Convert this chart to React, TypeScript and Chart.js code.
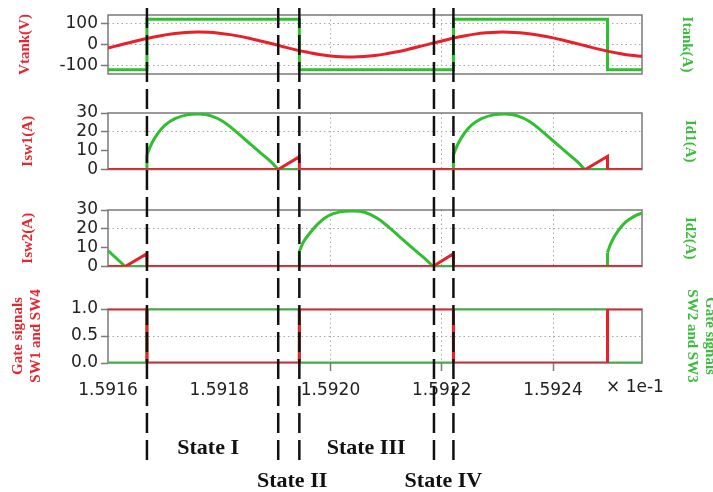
import React, { useEffect, useRef } from 'react';
import { Chart, registerables } from 'chart.js';
Chart.register(...registerables);

const W = 713;
const RED = '#e8202a';
const GREEN = '#2fbf2f';
const RED_TEXT = '#e3262f';
const GREEN_TEXT = '#3cbc3c';
const TEXT = '#222222';
const AXIS = '#7a7a7a';
const GRID = '#a8a8a8';

// ---- shared time axis (x 1e-1) ----
const X_MIN = 1.5916;
const X_MAX = 1.59256;
const xTicks = [1.5916, 1.5918, 1.592, 1.5922, 1.5924];
const xGridShown = [1.592, 1.5922, 1.5924];
const xTickMarks = [1.592, 1.5922, 1.5924];
const switchTimes = [1.59167, 1.591906, 1.591944, 1.592186, 1.592221];
const stateLabels = ['State I', 'State II', 'State III', 'State IV'];
const stateTimes = [1.59178, 1.591931, 1.592064, 1.592203];
const stateRows = [0, 1, 0, 1];

// ---- panel 1 : Vtank / Itank ----
const vtankT = [1.5916, 1.59162, 1.59164, 1.59166, 1.59168, 1.5917, 1.59172, 1.59174, 1.59176, 1.59178,
  1.5918, 1.59182, 1.59184, 1.59186, 1.59188, 1.5919, 1.59192, 1.59194, 1.59196, 1.59198,
  1.592, 1.59202, 1.59204, 1.59206, 1.59208, 1.5921, 1.59212, 1.59214, 1.59216, 1.59218,
  1.5922, 1.59222, 1.59224, 1.59226, 1.59228, 1.5923, 1.59232, 1.59234, 1.59236, 1.59238,
  1.5924, 1.59242, 1.59244, 1.59246, 1.59248, 1.5925, 1.59252, 1.59254, 1.59256];
const vtankV = [-17, -3.5, 10, 23, 35, 45, 53, 58, 60, 59,
  54.5, 47.5, 38, 26, 13.5, 0, -14, -27, -38, -48,
  -55, -59, -60, -58, -53, -45, -35, -23, -10, 4,
  17, 30, 41, 50, 56, 59.5, 59.5, 57, 51, 42.5,
  32, 19.5, 6, -7.5, -21, -33, -43.5, -52, -57];
const itankT = [1.5916, 1.59167, 1.59167, 1.591944, 1.591944, 1.592221, 1.592221, 1.592498, 1.592498, 1.59256];
const itankV = [-122, -122, 122, 122, -122, -122, 122, 122, -122, -122];
const p1Ticks = [-100, 0, 100];
const p1Grid = [-100, 0, 100];

// ---- panel 2 : Isw1 / Id1 ----
const isw1T = [1.5916, 1.591906, 1.591944, 1.591944, 1.592458, 1.592498, 1.592498, 1.59256];
const isw1V = [0, 0, 6.8, 0, 0, 7, 0, 0];
const id1LineT = [1.59167, 1.59167, 1.59167, 1.591906, 1.591944, 1.591944, 1.592221, 1.592221, 1.592221, 1.592457, 1.592498];
const id1LineV = [0, 7.7, null, 0, 0, null, 0, 7.7, null, 0, 0];
const id1HumpAT = [1.59167, 1.5916772, 1.591688, 1.5917024, 1.5917204, 1.591742, 1.5917636, 1.5917852, 1.5918068, 1.5918284, 1.59185, 1.5918716, 1.5918932, 1.591906];
const id1HumpAV = [7.7, 13, 18.5, 23.5, 27, 29, 29.5, 28.5, 25.5, 20.5, 15, 9.5, 4, 0];
const id1HumpBT = [1.592221, 1.5922282, 1.592239, 1.5922534, 1.5922714, 1.592293, 1.5923146, 1.5923362, 1.5923578, 1.5923794, 1.592401, 1.5924226, 1.5924442, 1.592457];
const id1HumpBV = [7.7, 13, 18.5, 23.5, 27, 29, 29.5, 28.5, 25.5, 20.5, 15, 9.5, 4, 0];
const p23Ticks = [0, 10, 20, 30];
const p23Grid = [20];

// ---- panel 3 : Isw2 / Id2 ----
const isw2T = [1.5916, 1.591631, 1.59167, 1.59167, 1.592184, 1.592221, 1.592221, 1.59256];
const isw2V = [0, 0, 6.8, 0, 0, 6.8, 0, 0];
const id2LineT = [1.5916, 1.591631, 1.59167, 1.59167, 1.591944, 1.591944, 1.591944, 1.592184, 1.592221, 1.59222, 1.592498, 1.592498];
const id2LineV = [8.5, 0, 0, null, 0, 8, null, 0, 0, null, 0, 7.5];
const id2HumpAT = [1.591944, 1.5919513, 1.5919623, 1.591977, 1.5919953, 1.5920173, 1.5920393, 1.5920613, 1.5920833, 1.5921052, 1.5921272, 1.5921492, 1.5921712, 1.592184];
const id2HumpAV = [8, 13, 17.5, 22.5, 26.8, 29, 29.5, 28.8, 25.7, 20.8, 15, 9.3, 3.8, 0];
const id2HumpBT = [1.592498, 1.5925052, 1.592516, 1.5925304, 1.5925484, 1.59256];
const id2HumpBV = [7.5, 13, 18.5, 23.5, 27, 28.3];

// ---- panel 4 : gate signals ----
const gate14T = [1.5916, 1.59167, 1.59167, 1.591944, 1.591944, 1.592221, 1.592221, 1.592498, 1.592498, 1.59256];
const gate14V = [1, 1, 0, 0, 1, 1, 0, 0, 1, 1];
const gate23T = [1.5916, 1.59167, 1.59167, 1.591944, 1.591944, 1.592221, 1.592221, 1.592498, 1.592498, 1.59256];
const gate23V = [0, 0, 1, 1, 0, 0, 1, 1, 0, 0];
const p4Ticks = [0, 0.5, 1];
const p4Grid = [0.5];

const near = (a: any, list: number[]) => typeof a === 'number' && list.some((v) => Math.abs(v - a) < 1e-9);

function line(T: number[], V: (number | null)[], color: string, smooth: boolean, order: number) {
  return {
    data: T.map((x, i) => ({ x, y: V[i] })),
    borderColor: color,
    backgroundColor: color,
    borderWidth: 3,
    pointRadius: 0,
    fill: false,
    spanGaps: false,
    order,
    tension: smooth ? 0.4 : 0,
    borderCapStyle: 'butt',
    borderJoinStyle: 'miter',
  };
}

type Panel = {
  top: number; height: number; padTop: number; padBottom: number;
  yMin: number; yMax: number; yTicks: number[]; yGrid: number[]; decimals: number;
  leftTitle: string | string[]; rightTitle: string | string[];
  leftPad: number; rightPad: number;
  datasets: any[]; showX: boolean; lineTop: number; lineBottom: number;
};

const titleFont = { family: 'Liberation Serif', size: 15, weight: 'bold' as const };

const panels: Panel[] = [
  {
    top: 0, height: 93, padTop: 15, padBottom: 19,
    yMin: -142, yMax: 142, yTicks: p1Ticks, yGrid: p1Grid, decimals: 0,
    leftTitle: 'Vtank(V)', rightTitle: 'Itank(A)', leftPad: 16, rightPad: 17,
    datasets: [line(vtankT, vtankV, RED, true, 0), line(itankT, itankV, GREEN, false, 1)],
    showX: false, lineTop: 8, lineBottom: 93,
  },
  {
    top: 93, height: 97, padTop: 20, padBottom: 20.5,
    yMin: 0, yMax: 30, yTicks: p23Ticks, yGrid: p23Grid, decimals: 0,
    leftTitle: 'Isw1(A)', rightTitle: 'Id1(A)', leftPad: 19, rightPad: 14,
    datasets: [
      line(isw1T, isw1V, RED, false, 0),
      line(id1LineT, id1LineV, GREEN, false, 1),
      line(id1HumpAT, id1HumpAV, GREEN, true, 1),
      line(id1HumpBT, id1HumpBV, GREEN, true, 1),
    ],
    showX: false, lineTop: 0, lineBottom: 97,
  },
  {
    top: 190, height: 97, padTop: 20, padBottom: 20.5,
    yMin: 0, yMax: 30, yTicks: p23Ticks, yGrid: p23Grid, decimals: 0,
    leftTitle: 'Isw2(A)', rightTitle: 'Id2(A)', leftPad: 19, rightPad: 14,
    datasets: [
      line(isw2T, isw2V, RED, false, 0),
      line(id2LineT, id2LineV, GREEN, false, 1),
      line(id2HumpAT, id2HumpAV, GREEN, true, 1),
      line(id2HumpBT, id2HumpBV, GREEN, true, 1),
    ],
    showX: false, lineTop: 0, lineBottom: 97,
  },
  {
    top: 287, height: 205, padTop: 22, padBottom: 89,
    yMin: 0, yMax: 1, yTicks: p4Ticks, yGrid: p4Grid, decimals: 1,
    leftTitle: ['Gate signals', 'SW1 and SW4'], rightTitle: ['Gate signals', 'SW2 and SW3'], leftPad: 9, rightPad: -6,
    datasets: [line(gate14T, gate14V, RED, false, 0), line(gate23T, gate23V, GREEN, false, 1)],
    showX: true, lineTop: 0, lineBottom: 176,
  },
];

function buildConfig(p: Panel): any {
  const DASH = [20, 7];
  const period = DASH[0] + DASH[1];
  const framePlugin = {
    id: 'frame',
    beforeDatasetsDraw(chart: any) {
      const { ctx, chartArea: a } = chart;
      ctx.save();
      ctx.strokeStyle = AXIS;
      ctx.lineWidth = 1.5;
      ctx.strokeRect(a.left, a.top, a.right - a.left, a.bottom - a.top);
      ctx.restore();
    },
  };
  const switchPlugin = {
    id: 'switchLines',
    afterDraw(chart: any) {
      const { ctx } = chart;
      const xs = chart.scales.x;
      ctx.save();
      ctx.strokeStyle = '#111111';
      ctx.lineWidth = 2.5;
      ctx.setLineDash(DASH);
      ctx.lineDashOffset = (((p.top + p.lineTop - 8) % period) + period) % period;
      switchTimes.forEach((t) => {
        const x = xs.getPixelForValue(t);
        ctx.beginPath();
        ctx.moveTo(x, p.lineTop);
        ctx.lineTo(x, p.lineBottom);
        ctx.stroke();
      });
      ctx.restore();
    },
  };
  const labelPlugin = {
    id: 'stateLabels',
    afterDraw(chart: any) {
      if (!p.showX) return;
      const { ctx, chartArea: a } = chart;
      const xs = chart.scales.x;
      ctx.save();
      ctx.fillStyle = '#111111';
      ctx.font = 'bold 22px "Liberation Serif"';
      ctx.textAlign = 'center';
      ctx.textBaseline = 'middle';
      stateLabels.forEach((s, i) => {
        ctx.fillText(s, xs.getPixelForValue(stateTimes[i]), a.bottom + (stateRows[i] ? 118 : 85));
      });
      ctx.fillStyle = TEXT;
      ctx.font = '17px "DejaVu Sans"';
      ctx.fillText('\u00d7 1e-1', a.right - 7, a.bottom + 25);
      ctx.restore();
    },
  };
  return {
    type: 'line',
    data: { datasets: p.datasets },
    options: {
      animation: false,
      responsive: true,
      maintainAspectRatio: false,
      events: [],
      layout: { padding: { left: 0, right: 0, top: p.padTop, bottom: p.padBottom } },
      plugins: { legend: { display: false }, tooltip: { enabled: false } },
      scales: {
        x: {
          type: 'linear',
          min: X_MIN,
          max: X_MAX,
          afterBuildTicks: (s: any) => { s.ticks = xTicks.map((v) => ({ value: v })); },
          afterFit: (s: any) => { s.height = p.showX ? 40 : 0; },
          ticks: {
            display: p.showX, autoSkip: false, maxRotation: 0, minRotation: 0, padding: 9,
            color: TEXT, font: { family: 'DejaVu Sans', size: 17 },
            callback: (v: any) => Number(v).toFixed(4),
          },
          grid: {
            color: (c: any) => (near(c.tick && c.tick.value, xGridShown) ? GRID : 'rgba(0,0,0,0)'),
            lineWidth: 1,
            drawTicks: p.showX,
            tickLength: 8,
            tickWidth: 1.5,
            tickColor: (c: any) => (near(c.tick && c.tick.value, xTickMarks) ? AXIS : 'rgba(0,0,0,0)'),
            tickBorderDash: [],
          },
          border: { display: false, dash: [1.5, 3] },
        },
        y: {
          type: 'linear',
          position: 'left',
          min: p.yMin,
          max: p.yMax,
          afterBuildTicks: (s: any) => { s.ticks = p.yTicks.map((v) => ({ value: v })); },
          afterFit: (s: any) => { s.width = 108; },
          ticks: {
            autoSkip: false,
            padding: 3, color: TEXT, font: { family: 'DejaVu Sans', size: 17 },
            callback: (v: any) => Number(v).toFixed(p.decimals),
          },
          grid: {
            color: (c: any) => (near(c.tick && c.tick.value, p.yGrid) ? GRID : 'rgba(0,0,0,0)'),
            lineWidth: 1,
            drawTicks: true,
            tickLength: 7,
            tickWidth: 1.5,
            tickColor: AXIS,
            tickBorderDash: [],
          },
          border: { display: false, dash: [1.5, 3] },
          title: {
            display: true, text: p.leftTitle, color: RED_TEXT, font: titleFont,
            padding: { top: p.leftPad, bottom: 0 },
          },
        },
        y2: {
          type: 'linear',
          position: 'right',
          afterFit: (s: any) => { s.width = W - 642; },
          ticks: { display: false },
          grid: { display: false },
          border: { display: false },
          title: {
            display: true, text: p.rightTitle, color: GREEN_TEXT, font: titleFont,
            padding: { top: p.rightPad, bottom: 0 },
          },
        },
      },
    },
    plugins: [framePlugin, switchPlugin, labelPlugin],
  };
}

function PanelChart({ p }: { p: Panel }) {
  const ref = useRef<HTMLCanvasElement>(null);
  useEffect(() => {
    const chart = new Chart(ref.current as HTMLCanvasElement, buildConfig(p));
    return () => chart.destroy();
  }, []);
  return (
    <div style={{ position: 'absolute', left: 0, top: p.top, width: W, height: p.height }}>
      <canvas ref={ref} />
    </div>
  );
}

export default function App() {
  return (
    <div style={{ position: 'absolute', left: 0, top: 0, width: W, height: 492, background: '#ffffff', overflow: 'hidden' }}>
      {panels.map((p, i) => (
        <PanelChart key={i} p={p} />
      ))}
    </div>
  );
}
